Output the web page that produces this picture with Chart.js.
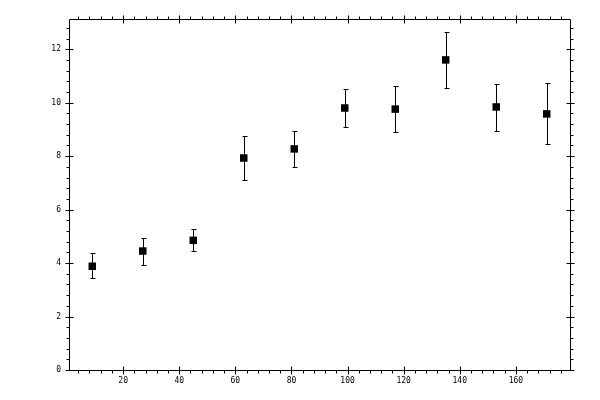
<!DOCTYPE html>
<html>
<head>
<meta charset="utf-8">
<script src="https://cdn.jsdelivr.net/npm/chart.js@4.4.1/dist/chart.umd.min.js"></script>
<style>
  html, body { margin: 0; padding: 0; background: #ffffff; }
  #grafico { display: block; }
</style>
</head>
<body>
<canvas id="grafico" width="600" height="400"></canvas>
<script>
// valores
const xValores = [9, 27, 45, 63, 81, 99, 117, 135, 153, 171];
const yValores = [3.88, 4.45, 4.85, 7.93, 8.27, 9.80, 9.76, 11.60, 9.84, 9.58];
const yInferior = [3.45, 3.93, 4.46, 7.11, 7.60, 9.09, 8.90, 10.55, 8.94, 8.46];
const ySuperior = [4.38, 4.94, 5.28, 8.76, 8.94, 10.51, 10.62, 12.64, 10.70, 10.75];

const xMin = 0.7, xMax = 179.3;
const yMin = 0, yMax = 13.13;

const fonteEixo = { family: 'DejaVu Sans Mono', size: 8 };

// barras de erro
const barrasErro = {
    id: 'barrasErro',
    beforeDatasetsDraw(chart) {
        const ctx = chart.ctx;
        const sx = chart.scales.x, sy = chart.scales.y;
        ctx.save();
        ctx.strokeStyle = '#000000';
        ctx.lineWidth = 1;
        for (let i = 0; i < xValores.length; i++) {
            const px = Math.round(sx.getPixelForValue(xValores[i])) + 0.5;
            const pLo = Math.round(sy.getPixelForValue(yInferior[i])) + 0.5;
            const pHi = Math.round(sy.getPixelForValue(ySuperior[i])) + 0.5;
            ctx.beginPath();
            ctx.moveTo(px, pLo); ctx.lineTo(px, pHi);
            ctx.moveTo(px - 2, pLo); ctx.lineTo(px + 3, pLo);
            ctx.moveTo(px - 2, pHi); ctx.lineTo(px + 3, pHi);
            ctx.stroke();
        }
        ctx.restore();
    }
};

// moldura com marcas maiores e menores
const moldura = {
    id: 'moldura',
    afterDraw(chart) {
        const ctx = chart.ctx;
        const a = chart.chartArea;
        const sx = chart.scales.x, sy = chart.scales.y;
        const L = Math.round(a.left) + 0.5, R = Math.round(a.right) + 0.5;
        const T = Math.round(a.top) + 0.5, B = Math.round(a.bottom) + 0.5;
        ctx.save();
        ctx.strokeStyle = '#000000';
        ctx.lineWidth = 1;
        ctx.beginPath();
        ctx.rect(L, T, R - L, B - T);
        // eixo x: menores a cada 4, maiores a cada 20
        for (let k = 1; k * 4 <= xMax; k++) {
            const v = k * 4;
            if (v < xMin) continue;
            const p = Math.round(sx.getPixelForValue(v)) + 0.5;
            if (v % 20 === 0) {
                ctx.moveTo(p, B - 4); ctx.lineTo(p, B + 4);
                ctx.moveTo(p, T - 4); ctx.lineTo(p, T + 4);
            } else {
                ctx.moveTo(p, B); ctx.lineTo(p, B + 3);
                ctx.moveTo(p, T); ctx.lineTo(p, T - 3);
            }
        }
        // eixo y: menores a cada 0.4, maiores a cada 2
        for (let k = 0; k * 0.4 <= yMax; k++) {
            const v = k * 0.4;
            const p = Math.round(sy.getPixelForValue(v)) + 0.5;
            if (k % 5 === 0) {
                ctx.moveTo(L - 4, p); ctx.lineTo(L + 4, p);
                ctx.moveTo(R - 4, p); ctx.lineTo(R + 4, p);
            } else {
                ctx.moveTo(L, p); ctx.lineTo(L - 3, p);
                ctx.moveTo(R, p); ctx.lineTo(R + 3, p);
            }
        }
        ctx.stroke();
        ctx.restore();
    }
};

const dados = xValores.map((x, i) => ({ x: x, y: yValores[i] }));

new Chart(document.getElementById('grafico'), {
    type: 'scatter',
    data: {
        datasets: [{
            data: dados,
            pointStyle: 'rect',
            pointRadius: 5.3,
            pointHoverRadius: 5.3,
            backgroundColor: '#000000',
            borderColor: '#000000',
            borderWidth: 0
        }]
    },
    options: {
        responsive: false,
        animation: false,
        devicePixelRatio: 1,
        layout: { padding: { top: 19, right: 30, left: 0, bottom: 0 } },
        plugins: { legend: { display: false }, tooltip: { enabled: false } },
        scales: {
            x: {
                type: 'linear',
                min: xMin, max: xMax,
                grid: { display: false, drawTicks: false },
                border: { display: false },
                ticks: { stepSize: 20, includeBounds: false, padding: 6, color: '#000000', font: fonteEixo, maxRotation: 0 },
                afterFit(scale) { scale.height = 30; }
            },
            y: {
                type: 'linear',
                min: yMin, max: yMax,
                grid: { display: false, drawTicks: false },
                border: { display: false },
                ticks: { stepSize: 2, includeBounds: false, padding: 8, color: '#000000', font: fonteEixo },
                afterFit(scale) { scale.width = 69; }
            }
        }
    },
    plugins: [barrasErro, moldura]
});
</script>
</body>
</html>
